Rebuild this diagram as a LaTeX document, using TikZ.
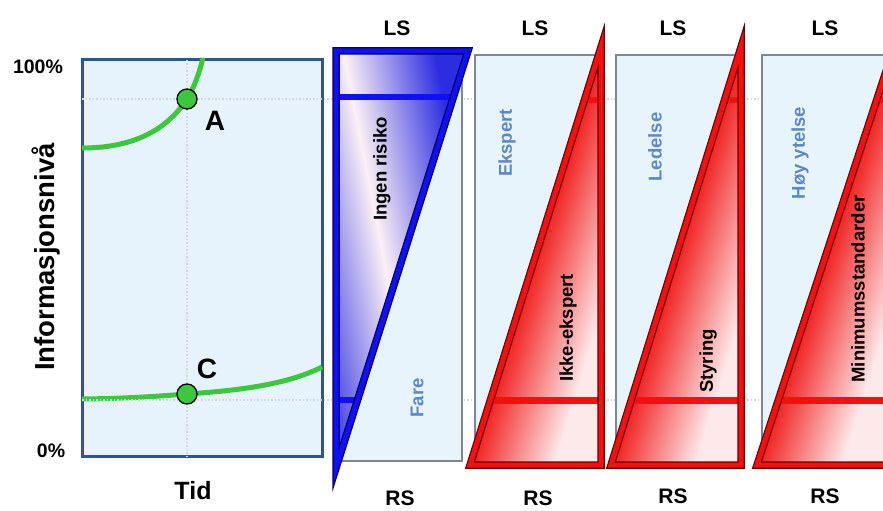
\documentclass[tikz,border=0pt]{standalone}
\usepackage{fontspec}
\setmainfont{Liberation Sans}
\definecolor{boxfill}{HTML}{E6F3FC}
\definecolor{boxline}{HTML}{2F5590}
\definecolor{panelfill}{HTML}{E8F4FC}
\definecolor{panelline}{HTML}{7F878F}
\definecolor{gridc}{HTML}{D0D6DC}
\definecolor{curvec}{HTML}{3CC83C}
\definecolor{tblue}{HTML}{1010F0}
\definecolor{tbluedark}{HTML}{00006A}
\definecolor{gblue}{HTML}{2C2CE0}
\definecolor{gpaleb}{HTML}{FBF0F4}
\definecolor{tred}{HTML}{F51010}
\definecolor{treddark}{HTML}{6A0000}
\definecolor{gred}{HTML}{F01818}
\definecolor{gpaler}{HTML}{FDE8EA}
\definecolor{softblue}{HTML}{5B88C6}
\newcommand{\redtri}[2]{%
  \pgfmathsetmacro{\rtang}{-atan((#2-#1)/418)}
  \fill[gpaler] (#1,465) -- (#2,47) -- (#2,465) -- cycle;
  \begin{scope}
    \clip (#1,465) -- (#2,47) -- (#2,465) -- cycle;
    \begin{scope}[transform canvas={rotate around={\rtang:(#1,465)}}]
      \shade[left color=gred, right color=gpaler] (#1-3,-300) rectangle (#1+80,900);
    \end{scope}
    \draw[tred, line width=6] (#1-20,100) -- (#2,100);
    \draw[tred, line width=7] (#1-20,400) -- (#2,400);
  \end{scope}
  \draw[treddark, line width=7.5, line join=miter] (#1,465) -- (#2,47) -- (#2,465) -- cycle;
  \draw[tred, line width=5, line join=miter] (#1,465) -- (#2,47) -- (#2,465) -- cycle;
}
\begin{document}
\begin{tikzpicture}[x=1pt,y=-1pt,
  lsrs/.style={font=\bfseries\fontsize{21}{24}\selectfont, inner sep=0pt},
  sidetxt/.style={font=\bfseries\fontsize{18.5}{22}\selectfont, inner sep=0pt, rotate=90},
  sideblue/.style={sidetxt, text=softblue},
  axlbl/.style={font=\bfseries\fontsize{19.5}{22}\selectfont, inner sep=0pt},
  ptlbl/.style={font=\bfseries\fontsize{28}{32}\selectfont, inner sep=0pt},
  dotpt/.style={circle, minimum size=20pt, inner sep=0pt, fill=curvec, draw=black, line width=1.3pt},
  gridline/.style={gridc, line width=1.4pt, dash pattern=on 1.5pt off 2pt},
  greencurve/.style={curvec, line width=5pt},
  panelrect/.style={draw=panelline, line width=1.2pt, fill=panelfill}]
\useasboundingbox (0,0) rectangle (883,511);
\fill[white] (0,0) rectangle (883,511);
\clip (0,0) rectangle (883,511);

% left chart
\draw[boxline, line width=3pt, fill=boxfill] (82,60) rectangle (322,456);
\draw[greencurve] (82,148) .. controls (140,148) and (170,125) .. (187,99) .. controls (193,90) and (199,74) .. (203,58);
\draw[greencurve] (82,399) .. controls (130,398.5) and (160,396) .. (187,394) .. controls (230,391) and (285,386) .. (322,367);
\draw[gridline] (82,99) -- (883,99);
\draw[gridline] (82,400) -- (883,400);
\draw[gridline] (187,60) -- (187,456);
\node[dotpt] (ptA) at (187,99) {};
\node[dotpt] (ptC) at (187,394) {};
\node[ptlbl] (labA) at (215,121) {A};
\node[ptlbl] (labC) at (207,369) {C};
\node[axlbl] (p100) at (38,67) {100\%};
\node[axlbl] (p0) at (51,451) {0\%};
\node[font=\bfseries\fontsize{27.5}{30}\selectfont, inner sep=0pt, rotate=90] (ylab) at (46,257) {Informasjonsnivå};
\node[font=\bfseries\fontsize{25}{28}\selectfont, inner sep=0pt] (tid) at (193,491) {Tid};

% panels
\draw[panelrect] (338,55) rectangle (462,461);
\draw[panelrect] (475,55) rectangle (601,461);
\draw[panelrect] (616,55) rectangle (741,461);
\draw[panelrect] (762,55) rectangle (900,461);

% blue triangle
\fill[gblue] (336,51) -- (468,51) -- (336,468) -- cycle;
\begin{scope}
  \clip (336,51) -- (468,51) -- (336,468) -- cycle;
  \begin{scope}[transform canvas={rotate around={11:(374,210)}}]
    \shade[left color=gblue, right color=gblue, middle color=gpaleb] (284,-300) rectangle (464,800);
  \end{scope}
  \draw[tblue, line width=6] (330,97) -- (480,97);
  \draw[tblue, line width=6.5] (330,400) -- (480,400);
\end{scope}
\draw[tbluedark, line width=7.5, line join=miter] (336,51) -- (468,51) -- (336,468) -- cycle;
\draw[tblue, line width=5, line join=miter] (336,51) -- (468,51) -- (336,468) -- cycle;

% red triangles
\redtri{470}{601}
\redtri{611}{741}
\redtri{757}{894}

% texts
\node[lsrs] (ls1) at (397,28) {LS};
\node[lsrs] (ls2) at (535,28) {LS};
\node[lsrs] (ls3) at (673,28) {LS};
\node[lsrs] (ls4) at (825,28) {LS};
\node[lsrs] (rs1) at (400,498) {RS};
\node[lsrs] (rs2) at (538,498) {RS};
\node[lsrs] (rs3) at (673,496) {RS};
\node[lsrs] (rs4) at (825,496) {RS};
\node[sidetxt] (t1) at (382,169) {Ingen risiko};
\node[sideblue] (t2) at (417,398) {Fare};
\node[sideblue] (t3) at (507,143) {Ekspert};
\node[sidetxt] (t4) at (568,328) {Ikke-ekspert};
\node[sideblue] (t5) at (655,147) {Ledelse};
\node[sidetxt] (t6) at (708,361) {Styring};
\node[sideblue] (t7) at (800,153) {Høy ytelse};
\node[sidetxt] (t8) at (858,289) {Minimumsstandarder};
\end{tikzpicture}
\end{document}
